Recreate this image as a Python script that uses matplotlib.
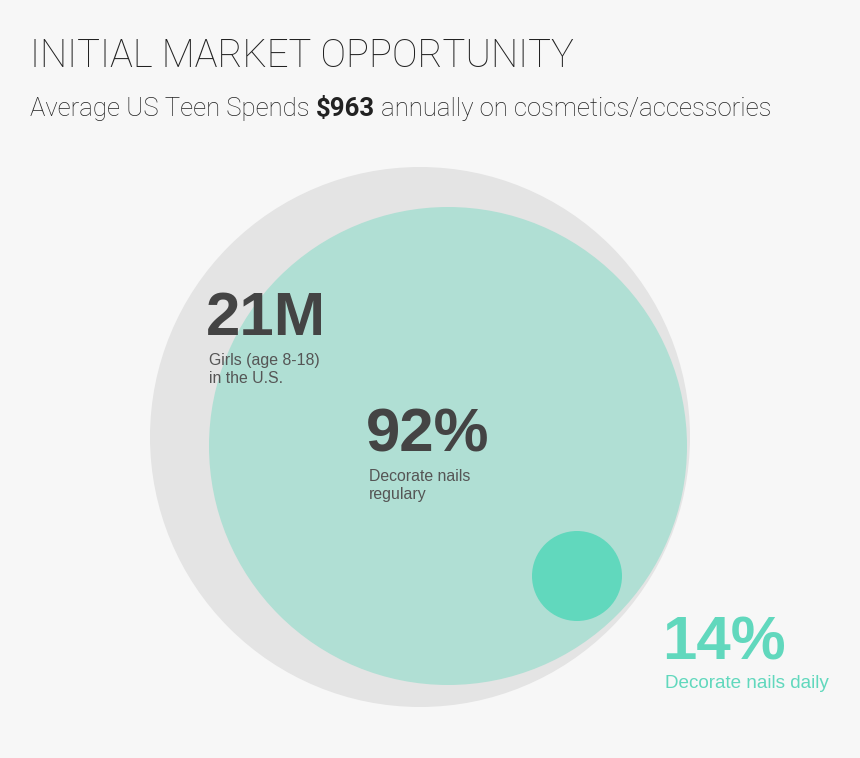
import matplotlib
matplotlib.use("Agg")
import matplotlib.pyplot as plt
from matplotlib.patches import Circle

# Content
title = "INITIAL MARKET OPPORTUNITY"
subtitle_parts = ["Average US Teen Spends ", "$963", " annually on cosmetics/accessories"]
stat_values = ["21M", "92%", "14%"]
stat_labels = [["Girls (age 8-18)", "in the U.S."],
               ["Decorate nails", "regulary"],
               ["Decorate nails daily"]]

BG = "#f7f7f7"
GRAY = "#e4e4e4"
TEAL_LIGHT = "#b0dfd4"
TEAL = "#61d8bd"
DARK = "#444444"
LABEL = "#555555"

W, H = 860, 758
fig = plt.figure(figsize=(W / 100, H / 100), dpi=100, facecolor=BG)
ax = fig.add_axes([0, 0, 1, 1])
ax.set_xlim(0, W)
ax.set_ylim(H, 0)
ax.set_aspect("equal")
ax.axis("off")
ax.set_facecolor(BG)

# Nested circles
ax.add_patch(Circle((420, 437), 270, facecolor=GRAY, edgecolor="none"))
ax.add_patch(Circle((448, 446), 239, facecolor=TEAL_LIGHT, edgecolor="none"))
ax.add_patch(Circle((577, 576), 45, facecolor=TEAL, edgecolor="none"))

# Heading
ax.text(30, 67, title, fontsize=27.5, family="Roboto", fontweight="light",
        color="#222222", va="baseline", ha="left")

# Subtitle with a bold amount
sub_size = 18.5
t1 = ax.text(30, 116, subtitle_parts[0], fontsize=sub_size, family="Roboto",
             fontweight="light", color="#222222", va="baseline", ha="left")
t2 = ax.annotate(subtitle_parts[1], xy=(1, 0), xycoords=t1, xytext=(0, 0),
                 textcoords="offset points", fontsize=sub_size, family="Roboto",
                 fontweight="bold", color="#222222", va="bottom", ha="left")
t3 = ax.annotate(subtitle_parts[2], xy=(1, 0), xycoords=t2, xytext=(0, 0),
                 textcoords="offset points", fontsize=sub_size, family="Roboto",
                 fontweight="light", color="#222222", va="bottom", ha="left")

# Stats
stat_pos = [(206, 335), (366, 452), (662, 659)]
label_pos = [(209, 365), (369, 481), (665, 688)]
stat_colors = [DARK, DARK, TEAL]
label_colors = [LABEL, LABEL, TEAL]
label_sizes = [11.4, 11.4, 13.6]
line_step = 18

for v, lines, (sx, sy), (lx, ly), sc, lc, ls in zip(stat_values, stat_labels, stat_pos,
                                                   label_pos, stat_colors, label_colors,
                                                   label_sizes):
    ax.text(sx, sy, v, fontsize=44.5, family="Liberation Sans", fontweight="bold",
            color=sc, va="baseline", ha="left")
    for i, line in enumerate(lines):
        ax.text(lx, ly + i * line_step, line, fontsize=ls, family="Liberation Sans",
                color=lc, va="baseline", ha="left")

fig.savefig("out.png", dpi=100, facecolor=BG)
